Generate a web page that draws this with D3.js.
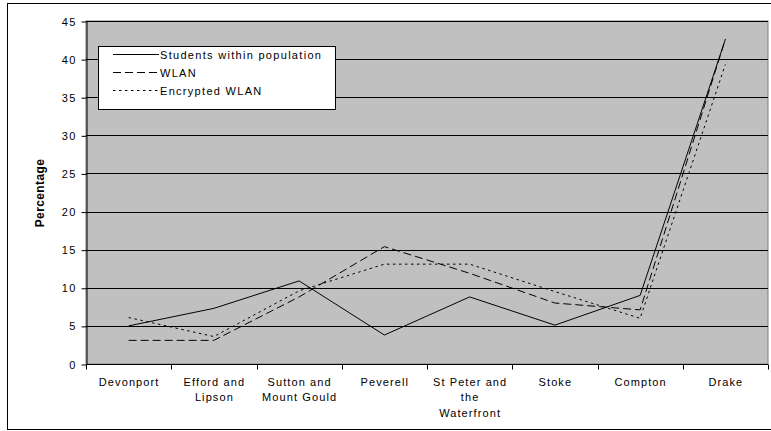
<!DOCTYPE html>
<html><head><meta charset="utf-8">
<script src="https://cdn.jsdelivr.net/npm/d3@7/dist/d3.min.js"></script>
<style>
html,body{margin:0;padding:0;background:#fff;}
text{font-family:"Liberation Sans",Arial,sans-serif;}
</style></head>
<body><svg id="c" width="771" height="431"></svg>
<script>
const categories = [["Devonport"],["Efford and","Lipson"],["Sutton and","Mount Gould"],["Peverell"],["St Peter and","the","Waterfront"],["Stoke"],["Compton"],["Drake"]];
const students = [5.0, 7.3, 10.9, 3.8, 8.8, 5.1, 9.0, 42.6];
const wlan = [3.1, 3.1, 8.8, 15.4, 11.9, 8.0, 7.1, 42.6];
const encrypted = [6.1, 3.6, 9.6, 13.1, 13.1, 9.5, 6.0, 39.3];
const yTicks = [0,5,10,15,20,25,30,35,40,45];
const seriesNames = ["Students within population","WLAN","Encrypted WLAN"];

const svg = d3.select("#c");
const L = 86, R = 768, T = 21, B = 364;
svg.append("rect").attr("x",7.5).attr("y",3.5).attr("width",800).attr("height",426).attr("fill","#fff").attr("stroke","#000").attr("stroke-width",1);

const x = d3.scaleBand().domain(d3.range(categories.length)).range([L,R]);
const y = d3.scaleLinear().domain([0,45]).range([B,T]);

svg.append("rect").attr("x",L).attr("y",T).attr("width",R-L).attr("height",B-T).attr("fill","#c0c0c0").attr("stroke","#808080");

svg.append("g").selectAll("line").data(yTicks.filter(d=>d>0)).join("line")
  .attr("x1",L).attr("x2",R).attr("y1",d=>Math.round(y(d))+0.5).attr("y2",d=>Math.round(y(d))+0.5)
  .attr("stroke","#000").attr("stroke-width",1);

const yAxis = d3.axisLeft(y).tickValues(yTicks).tickSize(5).tickPadding(5).tickSizeOuter(0);
const gy = svg.append("g").attr("transform",`translate(${L+0.5},0.5)`).call(yAxis);
gy.selectAll("text").attr("font-size","11px").attr("fill","#000").style("letter-spacing","1.2px");
gy.select(".domain").attr("stroke","#000");
gy.selectAll(".tick line").attr("stroke","#000");

const xb = d3.scaleLinear().domain([0,categories.length]).range([L,R]);
const gx = svg.append("g").attr("transform",`translate(0,${B+0.5})`);
gx.append("line").attr("x1",L).attr("x2",R).attr("stroke","#000");
gx.selectAll("line.t").data(d3.range(categories.length+1)).join("line").attr("class","t")
  .attr("x1",d=>Math.round(xb(d))+0.5).attr("x2",d=>Math.round(xb(d))+0.5).attr("y1",0).attr("y2",5).attr("stroke","#000");
const lab = gx.selectAll("text").data(categories).join("text")
  .attr("text-anchor","middle").attr("font-size","11px").style("letter-spacing","1.1px")
  .attr("transform",(d,i)=>`translate(${x(i)+x.bandwidth()/2+0.5},${21})`);
lab.selectAll("tspan").data(d=>d).join("tspan").attr("x",0).attr("dy",(d,i)=>i===0?0:15.5).text(d=>d);

svg.append("text").attr("transform","translate(44,193) rotate(-90)").attr("text-anchor","middle")
  .attr("font-size","12px").attr("font-weight","bold").style("letter-spacing","0.4px").text("Percentage");

const dashes = [null,"8,4","2.5,3.5"];
const data = [students,wlan,encrypted];
const line = d3.line().x((d,i)=>x(i)+x.bandwidth()/2).y(d=>y(d));
data.forEach((s,k)=>{
  svg.append("path").datum(s).attr("d",line).attr("fill","none").attr("stroke","#000").attr("stroke-width",1)
    .attr("stroke-dasharray",dashes[k]);
});

const lg = svg.append("g");
lg.append("rect").attr("x",98.5).attr("y",46.5).attr("width",237).attr("height",63).attr("fill","#fff").attr("stroke","#000");
seriesNames.forEach((n,k)=>{
  const yy = 54.5 + k*18;
  lg.append("line").attr("x1",113).attr("x2",159).attr("y1",yy).attr("y2",yy).attr("stroke","#000").attr("stroke-dasharray",dashes[k]);
  lg.append("text").attr("x",160).attr("y",yy+4).attr("font-size","11px").style("letter-spacing","1.3px").text(n);
});
</script></body></html>
